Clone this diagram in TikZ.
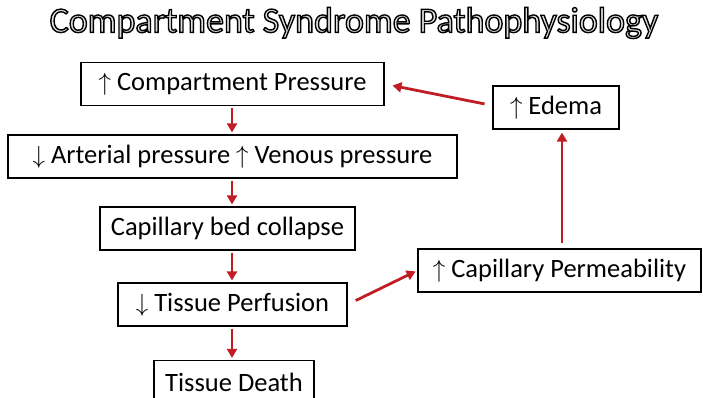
\documentclass[tikz,border=0pt]{standalone}
\usepackage{fontspec}
\setmainfont{Carlito}
\usetikzlibrary{arrows.meta}
\definecolor{arrowred}{RGB}{192,30,36}
\definecolor{titlefill}{RGB}{225,225,225}
\newcommand{\outlinetext}[1]{\special{pdf:literal direct 0 G 2 Tr 1.4 w}#1\special{pdf:literal direct 0 Tr}}

\begin{document}
\begin{tikzpicture}[x=1pt, y=-1pt, every node/.style={draw, line width=1.2pt, fill=white, font=\fontsize{26.5}{30}\selectfont, minimum height=43pt, inner sep=0pt}, redarrow/.style={draw=arrowred, line width=2.8pt, -{Triangle[length=9pt,width=10pt]}, shorten <=2pt, shorten >=2pt}]
    \useasboundingbox (0,0) rectangle (703,398);
    % title
    \node[draw=none, fill=none, font=\fontsize{36}{40}\selectfont, text=titlefill] (title) at (354,23) {\outlinetext{Compartment Syndrome Pathophysiology}};
    % boxes
    \foreach \name/\cx/\cy/\w/\txt in {comp/232.5/84/303/{$\uparrow$ Compartment Pressure}, artven/232.5/156.5/449/{$\downarrow$ Arterial pressure $\uparrow$ Venous pressure}, collapse/227.5/228.5/255/{Capillary bed collapse}, perf/232.5/304.5/229/{$\downarrow$ Tissue Perfusion}, death/234/382/160/{Tissue Death}, edema/556/107.5/126/{$\uparrow$ Edema}, perm/559.5/270.5/283/{$\uparrow$ Capillary Permeability}} {
        \node[minimum width=\w pt] (\name) at (\cx,\cy) {\txt};
    }
    \coordinate (chainx) at (232,0);
    \coordinate (risex) at (562,0);
    \foreach \a/\b in {comp/artven, artven/collapse, collapse/perf, perf/death} {
        \draw[redarrow] (\a.south -| chainx) -- (\b.north -| chainx);
    }
    \draw[redarrow, shorten <=9pt] (perf.east) -- (perm.west);
    \draw[redarrow, shorten <=5pt, shorten >=3pt] (perm.north -| risex) -- (edema.south -| risex);
    \draw[redarrow, shorten <=8pt, shorten >=8pt] ([yshift=2pt]edema.west) -- (comp.east);
\end{tikzpicture}
\end{document}
